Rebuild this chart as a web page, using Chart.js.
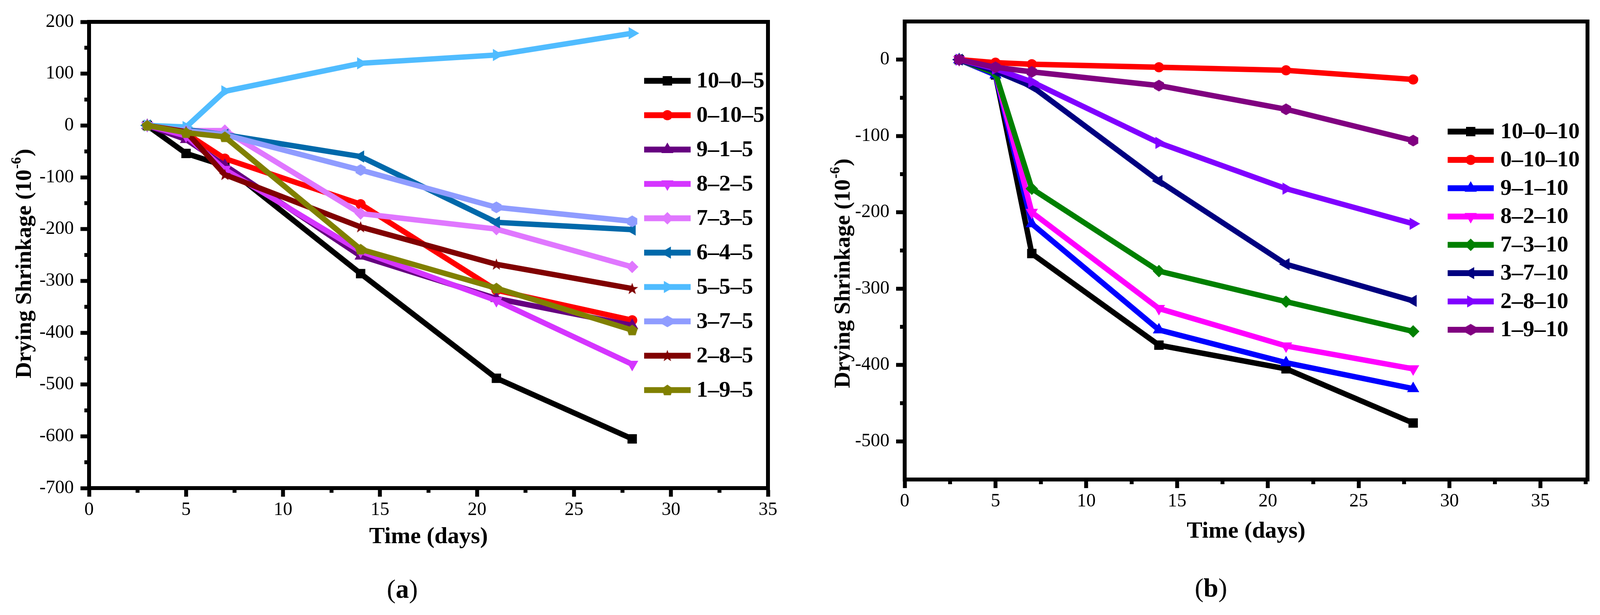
<!DOCTYPE html>
<html>
<head>
<meta charset="utf-8">
<script src="https://cdn.jsdelivr.net/npm/chart.js@4.4.1/dist/chart.umd.min.js"></script>
<style>
    html, body { margin: 0; padding: 0; background: #fff; }
    body { width: 4108px; height: 1575px; position: relative; overflow: hidden; }
    canvas { position: absolute; top: 0; }
    #chartA { left: 0; }
    #chartB { left: 2054px; }
</style>
</head>
<body>
<canvas id="chartA" width="2054" height="1575"></canvas>
<canvas id="chartB" width="2054" height="1575"></canvas>
<script>
// time points (days)
const days = [3, 5, 7, 14, 21, 28];

// (a) mixes with 5 %
const labelsA = ['10–0–5', '0–10–5', '9–1–5', '8–2–5', '7–3–5', '6–4–5', '5–5–5', '3–7–5', '2–8–5', '1–9–5'];
const mixA_10_0_5 = [0, -54, -78, -286, -488, -605];
const mixA_0_10_5 = [0, -15, -64, -152, -318, -376];
const mixA_9_1_5 = [0, -27, -77, -252, -334, -386];
const mixA_8_2_5 = [0, -20, -85, -243, -338, -461];
const mixA_7_3_5 = [0, -10, -10, -170, -200, -273];
const mixA_6_4_5 = [0, -8, -18, -60, -187, -201];
const mixA_5_5_5 = [0, -3, 66, 120, 136, 178];
const mixA_3_7_5 = [0, -10, -18, -86, -158, -185];
const mixA_2_8_5 = [0, -12, -95, -196, -268, -315];
const mixA_1_9_5 = [0, -14, -22, -239, -314, -395];
const seriesA = [mixA_10_0_5, mixA_0_10_5, mixA_9_1_5, mixA_8_2_5, mixA_7_3_5,
    mixA_6_4_5, mixA_5_5_5, mixA_3_7_5, mixA_2_8_5, mixA_1_9_5];

// (b) mixes with 10 %
const labelsB = ['10–0–10', '0–10–10', '9–1–10', '8–2–10', '7–3–10', '3–7–10', '2–8–10', '1–9–10'];
const mixB_10_0_10 = [0, -20, -254, -374, -405, -476];
const mixB_0_10_10 = [0, -4, -6, -10, -14, -26];
const mixB_9_1_10 = [0, -20, -215, -354, -397, -431];
const mixB_8_2_10 = [0, -18, -200, -326, -375, -405];
const mixB_7_3_10 = [0, -18, -169, -277, -317, -356];
const mixB_3_7_10 = [0, -15, -35, -159, -268, -316];
const mixB_2_8_10 = [0, -12, -29, -109, -169, -215];
const mixB_1_9_10 = [0, -10, -16, -34, -65, -106];
const seriesB = [mixB_10_0_10, mixB_0_10_10, mixB_9_1_10, mixB_8_2_10,
    mixB_7_3_10, mixB_3_7_10, mixB_2_8_10, mixB_1_9_10];

// axis ticks
const xTicks = [0, 5, 10, 15, 20, 25, 30, 35];
const yTicksA = [-700, -600, -500, -400, -300, -200, -100, 0, 100, 200];
const yTicksB = [-500, -400, -300, -200, -100, 0];

// styles
const colorsA = ['#000000', '#ff0000', '#660080', '#d535ff', '#e077ff', '#0069aa', '#50bcff', '#8f9cff', '#800000', '#808000'];
const markersA = ['rect', 'circle', 'triangle', 'triangleDown', 'rectRot', 'triangleLeft', 'triangleRight', 'hexagon', 'star', 'pentagon'];
const colorsB = ['#000000', '#ff0000', '#0000ff', '#ff00ff', '#008000', '#000080', '#8000ff', '#800080'];
const markersB = ['rect', 'circle', 'triangle', 'triangleDown', 'rectRot', 'triangleLeft', 'triangleRight', 'hexagon'];

const FONT = '"Liberation Serif", "Times New Roman", serif';

// filled marker shapes Chart.js has no built-in style for
function shapeImage(kind, color) {
    const size = 32;
    const c = document.createElement('canvas');
    c.width = size;
    c.height = size;
    const g = c.getContext('2d');
    const cx = size / 2, cy = size / 2;
    g.fillStyle = color;
    g.beginPath();
    if (kind === 'star') {
        for (let i = 0; i < 10; i++) {
            const r = i % 2 === 0 ? 16 : 6.5;
            const a = -Math.PI / 2 + i * Math.PI / 5;
            g.lineTo(cx + r * Math.cos(a), cy + 1 + r * Math.sin(a));
        }
    } else {
        const n = kind === 'hexagon' ? 6 : 5;
        for (let i = 0; i < n; i++) {
            const a = -Math.PI / 2 + i * 2 * Math.PI / n;
            g.lineTo(cx + 15 * Math.cos(a), cy + (kind === 'pentagon' ? 1 : 0) + 15 * Math.sin(a));
        }
    }
    g.closePath();
    g.fill();
    return c;
}

function markerFor(kind, color) {
    switch (kind) {
        case 'rect': return { pointStyle: 'rect', rotation: 0, radius: 17 };
        case 'circle': return { pointStyle: 'circle', rotation: 0, radius: 13 };
        case 'triangle': return { pointStyle: 'triangle', rotation: 0, radius: 18 };
        case 'triangleDown': return { pointStyle: 'triangle', rotation: 180, radius: 18 };
        case 'triangleLeft': return { pointStyle: 'triangle', rotation: 270, radius: 18 };
        case 'triangleRight': return { pointStyle: 'triangle', rotation: 90, radius: 18 };
        case 'rectRot': return { pointStyle: 'rectRot', rotation: 0, radius: 16 };
        default: return { pointStyle: shapeImage(kind, color), rotation: 0, radius: 15 };
    }
}

function buildDatasets(labels, series, colors, markers) {
    const n = labels.length;
    return labels.map((label, i) => {
        const m = markerFor(markers[i], colors[i]);
        return {
            label: label,
            data: days.map((d, k) => ({ x: d, y: series[i][k] })),
            borderColor: colors[i],
            backgroundColor: colors[i],
            borderWidth: 14,
            borderJoinStyle: 'miter',
            tension: 0,
            pointStyle: m.pointStyle,
            pointRotation: m.rotation,
            pointRadius: m.radius,
            pointBorderWidth: 0,
            pointBackgroundColor: colors[i],
            pointBorderColor: colors[i],
            order: n - i, // later series drawn on top
        };
    });
}

function midpoints(ticks) {
    const out = [];
    for (let i = 0; i < ticks.length - 1; i++) out.push((ticks[i] + ticks[i + 1]) / 2);
    return out;
}

const decorPlugin = {
    id: 'decor',
    afterDraw(chart, args, o) {
        const ctx = chart.ctx;
        const a = chart.chartArea;
        const xs = chart.scales.x, ys = chart.scales.y;
        ctx.save();

        // frame top + right
        ctx.strokeStyle = '#000';
        ctx.lineWidth = 10;
        ctx.lineJoin = 'miter';
        ctx.beginPath();
        ctx.moveTo(a.left - 5, a.top);
        ctx.lineTo(a.right, a.top);
        ctx.lineTo(a.right, a.bottom + 5);
        ctx.stroke();

        // minor ticks
        ctx.beginPath();
        o.yMinor.forEach((v) => {
            const y = ys.getPixelForValue(v);
            ctx.moveTo(a.left - 12, y);
            ctx.lineTo(a.left, y);
        });
        o.xMinor.forEach((v) => {
            if (v > xs.max) return;
            const x = xs.getPixelForValue(v);
            ctx.moveTo(x, a.bottom);
            ctx.lineTo(x, a.bottom + 12);
        });
        ctx.stroke();

        // legend
        const lg = o.legend;
        chart.data.datasets.forEach((ds, i) => {
            const y = lg.y0 + i * lg.step;
            ctx.strokeStyle = ds.borderColor;
            ctx.lineWidth = 15;
            ctx.lineCap = 'butt';
            ctx.beginPath();
            ctx.moveTo(lg.x1, y);
            ctx.lineTo(lg.x2, y);
            ctx.stroke();
            ctx.fillStyle = ds.backgroundColor;
            Chart.helpers.drawPoint(ctx, {
                pointStyle: ds.pointStyle,
                rotation: ds.pointRotation,
                radius: ds.pointRadius,
                borderWidth: 0,
            }, (lg.x1 + lg.x2) / 2, y);
            ctx.fillStyle = '#000';
            ctx.font = 'bold 58px ' + FONT;
            ctx.textAlign = 'left';
            ctx.textBaseline = 'middle';
            ctx.fillText(ds.label, lg.textX, y + 2);
        });

        // x title
        ctx.fillStyle = '#000';
        ctx.font = 'bold 60px ' + FONT;
        ctx.textAlign = 'center';
        ctx.textBaseline = 'middle';
        ctx.fillText('Time (days)', o.xTitle.x, o.xTitle.y);

        // y title with superscript
        ctx.save();
        ctx.translate(o.yTitle.x, o.yTitle.y);
        ctx.rotate(-Math.PI / 2);
        const big = 'bold 58px ' + FONT, small = 'bold 36px ' + FONT;
        ctx.font = big;
        const w1 = ctx.measureText('Drying Shrinkage (10').width;
        const w3 = ctx.measureText(')').width;
        ctx.font = small;
        const w2 = ctx.measureText('-6').width + 4;
        let cx = -(w1 + w2 + w3) / 2;
        ctx.textAlign = 'left';
        ctx.textBaseline = 'alphabetic';
        ctx.font = big;
        ctx.fillText('Drying Shrinkage (10', cx, 20);
        cx += w1;
        ctx.font = small;
        ctx.fillText('-6', cx + 2, -6);
        cx += w2;
        ctx.font = big;
        ctx.fillText(')', cx, 20);
        ctx.restore();

        // caption (a)/(b)
        const reg = '68px ' + FONT, bold = 'bold 68px ' + FONT;
        ctx.font = reg;
        const pw = ctx.measureText('(').width, qw = ctx.measureText(')').width;
        ctx.font = bold;
        const lw = ctx.measureText(o.caption.letter).width;
        let px = o.caption.x - (pw + lw + qw) / 2;
        ctx.textAlign = 'left';
        ctx.textBaseline = 'middle';
        ctx.font = reg;
        ctx.fillText('(', px, o.caption.y);
        px += pw;
        ctx.font = bold;
        ctx.fillText(o.caption.letter, px, o.caption.y);
        px += lw;
        ctx.font = reg;
        ctx.fillText(')', px, o.caption.y);

        ctx.restore();
    },
};

function makeChart(id, cfg) {
    return new Chart(document.getElementById(id), {
        type: 'line',
        data: { datasets: cfg.datasets },
        plugins: [decorPlugin],
        options: {
            responsive: false,
            devicePixelRatio: 1,
            animation: false,
            events: [],
            layout: { autoPadding: false, padding: cfg.padding },
            plugins: {
                legend: { display: false },
                tooltip: { enabled: false },
                decor: cfg.decor,
            },
            scales: {
                x: {
                    type: 'linear',
                    min: 0,
                    max: cfg.xMax,
                    afterBuildTicks: (scale) => { scale.ticks = xTicks.map((v) => ({ value: v })); },
                    afterFit: (scale) => { scale.height = cfg.xHeight; },
                    border: { display: true, color: '#000', width: 10 },
                    grid: { drawOnChartArea: false, drawTicks: true, tickLength: 22, tickWidth: 10, tickColor: '#000' },
                    ticks: { color: '#000', font: { family: FONT, size: 48 }, padding: 6, maxRotation: 0, autoSkip: false },
                },
                y: {
                    type: 'linear',
                    min: cfg.yMin,
                    max: cfg.yMax,
                    afterBuildTicks: (scale) => { scale.ticks = cfg.yTicks.map((v) => ({ value: v })); },
                    afterFit: (scale) => { scale.width = cfg.yWidth; },
                    border: { display: true, color: '#000', width: 10 },
                    grid: { drawOnChartArea: false, drawTicks: true, tickLength: 22, tickWidth: 10, tickColor: '#000' },
                    ticks: { color: '#000', font: { family: FONT, size: 48 }, padding: 17, autoSkip: false },
                },
            },
        },
    });
}

makeChart('chartA', {
    datasets: buildDatasets(labelsA, seriesA, colorsA, markersA),
    padding: { left: 0, top: 56, right: 88, bottom: 0 },
    xMax: 35, xHeight: 325, yWidth: 228,
    yMin: -700, yMax: 200, yTicks: yTicksA,
    decor: {
        yMinor: midpoints(yTicksA),
        xMinor: midpoints(xTicks),
        legend: { x1: 1649, x2: 1768, textX: 1783, y0: 207, step: 88 },
        xTitle: { x: 1097, y: 1375 },
        yTitle: { x: 59, y: 675 },
        caption: { x: 1030, y: 1513, letter: 'a' },
    },
});

makeChart('chartB', {
    datasets: buildDatasets(labelsB, seriesB, colorsB, markersB),
    padding: { left: 0, top: 55, right: 44, bottom: 0 },
    xMax: 37.6, xHeight: 347, yWidth: 262,
    yMin: -550, yMax: 50, yTicks: yTicksB,
    decor: {
        yMinor: midpoints(yTicksB),
        xMinor: midpoints(xTicks).concat([37.5]),
        legend: { x1: 1652, x2: 1770, textX: 1787, y0: 337, step: 72.5 },
        xTitle: { x: 1136, y: 1361 },
        yTitle: { x: 101, y: 700 },
        caption: { x: 1046, y: 1510, letter: 'b' },
    },
});
</script>
</body>
</html>
